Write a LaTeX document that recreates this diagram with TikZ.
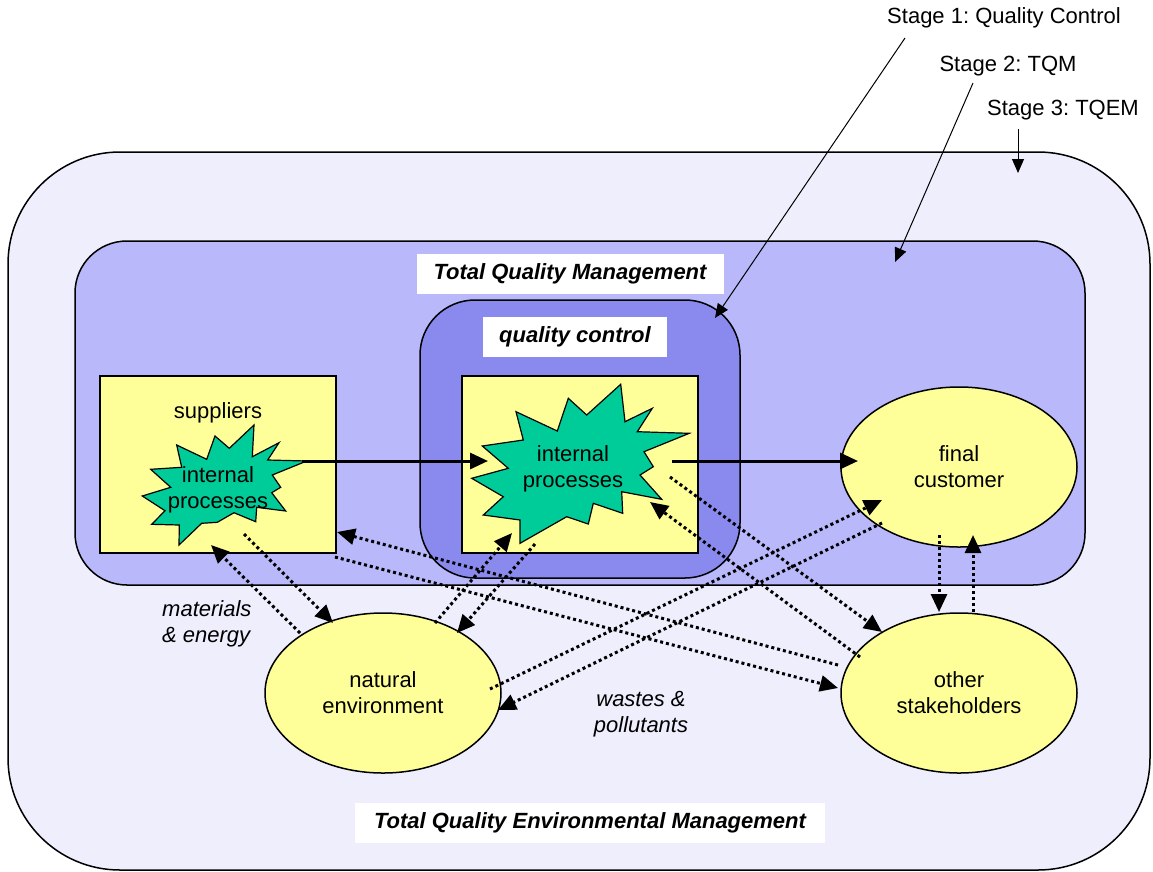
\documentclass[tikz,border=0pt]{standalone}
\usepackage{fontspec}
\setmainfont{Liberation Sans}
\usetikzlibrary{arrows.meta,shapes.geometric}
\definecolor{outerc}{RGB}{238,238,253}
\definecolor{tqmc}{RGB}{184,184,250}
\definecolor{qcc}{RGB}{138,138,238}
\definecolor{yel}{RGB}{255,255,153}
\definecolor{grn}{RGB}{0,204,153}
\tikzset{
  frame/.style={draw=black,line width=1.5pt,inner sep=0pt,outer sep=0pt},
  box/.style={frame,fill=yel,rectangle,line width=1.8pt},
  ell/.style={frame,fill=yel,ellipse,minimum width=236pt,minimum height=160pt},
  starsh/.style={draw=black,line width=1.2pt,fill=grn,line join=miter},
  lbl/.style={font=\fontsize{22}{26}\selectfont,align=center,inner sep=0pt},
  title/.style={fill=white,inner sep=0pt,minimum height=40pt,font=\fontsize{22}{26}\selectfont\bfseries\itshape},
  solidarr/.style={line width=3pt,-{Triangle[length=18pt,width=16pt]}},
  dotarr/.style={line width=3pt,dash pattern=on 3pt off 3pt,-{Triangle[length=18pt,width=16pt]}},
  stagearr/.style={line width=1pt,-{Triangle[length=14pt,width=12pt]}}
}
\frenchspacing
\begin{document}
\frenchspacing
\begin{tikzpicture}[x=1pt,y=-1pt]
\useasboundingbox (0,0) rectangle (1153,871);
% containers
\node[frame,fill=outerc,rectangle,rounded corners=112pt,minimum width=1142pt,minimum height=718pt] (tqem) at (579,511) {};
\node[frame,fill=tqmc,rectangle,rounded corners=52pt,minimum width=1010pt,minimum height=344pt] (tqm) at (580,413) {};
\node[frame,fill=qcc,rectangle,rounded corners=55pt,minimum width=320pt,minimum height=278pt] (qc) at (580,439) {};
% titles
\node[title,minimum width=307pt] (tqmlbl) at (570,274) {Total Quality Management};
\node[title,minimum width=184pt] (qclbl) at (575,337) {quality control};
\node[title,minimum width=470pt] (tqemlbl) at (590,823) {Total Quality Environmental Management};
% boxes
\node[box,minimum width=236pt,minimum height=177pt] (supbox) at (218,464.5) {};
\node[box,minimum width=236pt,minimum height=177pt] (intbox) at (580,464.5) {};
\node[lbl] (suplbl) at (218,413) {suppliers};
% stars
\draw[starsh] (254,425) -- (252.3,456.7) -- (279,442.7) -- (267.7,460) -- (306.7,461) -- (272.3,475) -- (280.7,487.3) -- (271.7,492.7) -- (285.7,511) -- (256.7,507.3) -- (255.7,521.7) -- (234,512.7) -- (217.3,522.3) -- (201.7,523.3) -- (179,545) -- (179.3,525) -- (151.7,524.3) -- (165,510.7) -- (142.3,496) -- (170.7,487.3) -- (150.7,469.3) -- (181.7,467.3) -- (176.7,445) -- (206.7,459.3) -- (215,436) -- (229.3,448.3) -- cycle;
\node[lbl] (star1) at (218,490) {internal\\processes};
\draw[starsh] (620.7,384.3) -- (625,421.7) -- (652.3,408.3) -- (637.3,431.7) -- (689.3,433.3) -- (644,451.7) -- (653.3,466.7) -- (640,475) -- (661.7,499.3) -- (621.7,491.7) -- (622.7,513.3) -- (593.3,503.3) -- (588.3,524) -- (566.7,516.7) -- (520,543.3) -- (520,520) -- (483.3,515) -- (503.3,496.7) -- (471.7,478.3) -- (508.3,468.3) -- (482.3,446) -- (523.3,440) -- (516,411.7) -- (557.3,431) -- (568.3,398.3) -- (586.7,415) -- cycle;
\node[lbl] (star2) at (573,469) {internal\\processes};
% ellipses
\node[ell,lbl,draw=black,fill=yel,line width=1.5pt] (cust) at (959,467) {final\\customer};
\node[ell,lbl,draw=black,fill=yel,line width=1.5pt] (stake) at (959,693) {other\\stakeholders};
\node[ell,lbl,draw=black,fill=yel,line width=1.5pt] (env) at (383,693) {natural\\environment};
% free labels
\node[lbl,align=left,anchor=west] (mat) at (162,624) {\itshape materials\\\itshape \& energy};
\node[lbl] (waste) at (641,714) {\itshape wastes \&\\\itshape pollutants};
% endpoint coordinates
\coordinate (s1out) at (302,461);
\coordinate (s2in) at (488,461);
\coordinate (s2out) at (672,461);
\coordinate (custin) at (858,461);
\coordinate (a1) at (244,534); \coordinate (a2) at (333,623);
\coordinate (b1) at (300,633); \coordinate (b2) at (211,545);
\coordinate (c1) at (435,623); \coordinate (c2) at (512,533);
\coordinate (d1) at (535,544); \coordinate (d2) at (457,633);
\coordinate (e1) at (860,657); \coordinate (e2) at (650,502);
\coordinate (f1) at (670,477); \coordinate (f2) at (882,632);
\coordinate (g1) at (490,689); \coordinate (g2) at (882,500);
\coordinate (h1) at (882,523); \coordinate (h2) at (498,710);
\coordinate (i1) at (838,665); \coordinate (i2) at (337,532);
\coordinate (j1) at (335,557); \coordinate (j2) at (838,688);
\coordinate (k1) at (939,535); \coordinate (k2) at (939,612);
\coordinate (l1) at (973,612); \coordinate (l2) at (973,535);
% solid flow
\draw[solidarr] (s1out) -- (s2in);
\draw[solidarr] (s2out) -- (custin);
% dotted flows
\draw[dotarr] (a1) -- (a2);
\draw[dotarr] (b1) -- (b2);
\draw[dotarr] (c1) -- (c2);
\draw[dotarr] (d1) -- (d2);
\draw[dotarr] (e1) -- (e2);
\draw[dotarr] (f1) -- (f2);
\draw[dotarr] (g1) -- (g2);
\draw[dotarr] (h1) -- (h2);
\draw[dotarr] (i1) -- (i2);
\draw[dotarr] (j1) -- (j2);
\draw[dotarr] (k1) -- (k2);
\draw[dotarr] (l1) -- (l2);
% stage labels
\node[lbl] (st1) at (1004,18) {Stage 1: Quality Control};
\node[lbl] (st2) at (1008,66) {Stage 2: TQM};
\node[lbl] (st3) at (1063,110) {Stage 3: TQEM};
\coordinate (st1s) at (905,38); \coordinate (st1e) at (715,318);
\coordinate (st2s) at (973,83); \coordinate (st2e) at (895,262);
\coordinate (st3s) at (1018,129); \coordinate (st3e) at (1018,173);
\draw[stagearr] (st1s) -- (st1e);
\draw[stagearr] (st2s) -- (st2e);
\draw[stagearr] (st3s) -- (st3e);
\end{tikzpicture}
\end{document}
